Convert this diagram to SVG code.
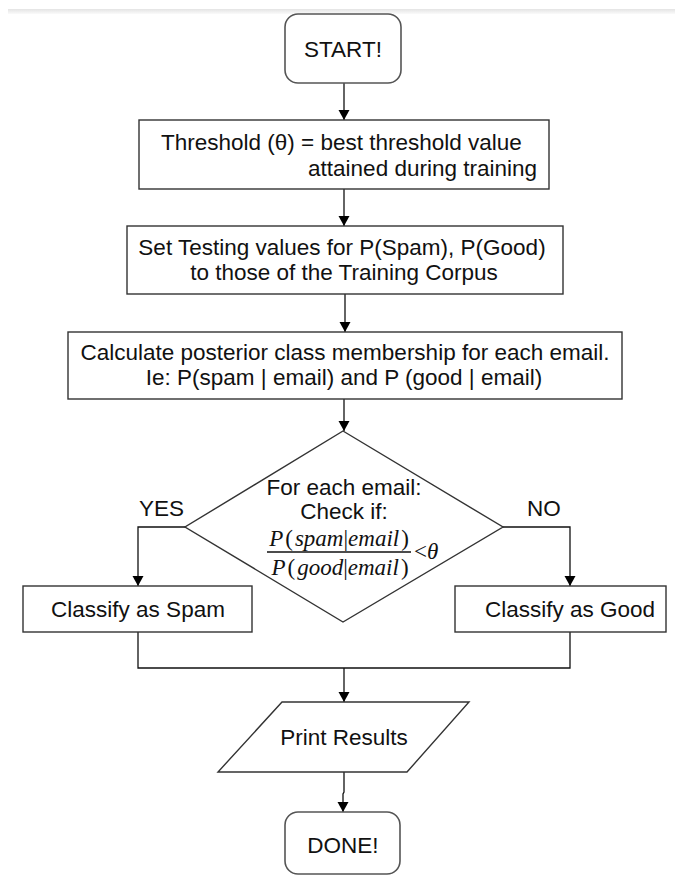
<svg xmlns="http://www.w3.org/2000/svg" width="675" height="877" viewBox="0 0 675 877">
<style>
.box{fill:#fff;stroke:#333;stroke-width:1.4}
.rbox{fill:#fff;stroke:#555;stroke-width:1.6}
.t{font-family:"Liberation Sans",Arial,sans-serif;font-size:22.5px;fill:#111}
.c{text-anchor:middle}
.m{font-family:"Liberation Serif","Times New Roman",serif;font-size:23px;fill:#111}
.i{font-style:italic}
.ln{fill:none;stroke:#111;stroke-width:1.3}
</style>
<defs>
<marker id="ah" viewBox="0 0 10 14" refX="10" refY="7" markerWidth="10" markerHeight="14" markerUnits="userSpaceOnUse" orient="auto">
<path d="M0,1.5 L10,7 L0,12.5 z" fill="#000"/>
</marker>
<linearGradient id="band" x1="0" y1="0" x2="0" y2="1">
<stop offset="0" stop-color="#e4e4e4"/>
<stop offset="1" stop-color="#fafafa"/>
</linearGradient>
</defs>
<rect x="0" y="0" width="675" height="877" fill="#fff"/>
<rect x="8" y="9" width="667" height="5" fill="url(#band)"/>

<g id="connectors">
<path class="ln" d="M344,83 V120" marker-end="url(#ah)"/>
<path class="ln" d="M344,189 V226" marker-end="url(#ah)"/>
<path class="ln" d="M345,294 V332" marker-end="url(#ah)"/>
<path class="ln" d="M344,399 V431" marker-end="url(#ah)"/>
<path class="ln" d="M185,527 H138 V586" marker-end="url(#ah)"/>
<path class="ln" d="M503,527 H570 V586" marker-end="url(#ah)"/>
<path class="ln" d="M138,632 V668 H570 V632"/>
<path class="ln" d="M344,668 V702" marker-end="url(#ah)"/>
<path class="ln" d="M344,772 V792 L343,794 V812" marker-end="url(#ah)"/>
<text class="t" x="139" y="516">YES</text>
<text class="t" x="527" y="516">NO</text>
</g>

<g id="start">
<rect class="rbox" x="285" y="14" width="116" height="69" rx="13"/>
<text class="t c" x="343" y="57">START!</text>
</g>

<g id="threshold">
<rect class="box" x="139" y="120" width="410" height="69"/>
<text class="t" x="161" y="150">Threshold (θ) = best threshold value</text>
<text class="t" x="537" y="176" text-anchor="end">attained during training</text>
</g>

<g id="set-testing">
<rect class="box" x="127" y="226" width="436" height="68"/>
<text class="t c" x="342" y="255">Set Testing values for P(Spam), P(Good)</text>
<text class="t c" x="344" y="280">to those of the Training Corpus</text>
</g>

<g id="calculate">
<rect class="box" x="68" y="332" width="554" height="67"/>
<text class="t c" x="345" y="360">Calculate posterior class membership for each email.</text>
<text class="t c" x="344" y="385">Ie: P(spam | email) and P (good | email)</text>
</g>

<g id="decision">
<polygon class="box" points="343,431 503,527 343,622 185,527"/>
<text class="t c" x="344" y="495">For each email:</text>
<text class="t c" x="344" y="519">Check if:</text>
<text class="m c" x="339" y="546"><tspan class="i">P</tspan><tspan dx="2">(</tspan><tspan class="i" dx="2">spam</tspan>|<tspan class="i">email</tspan><tspan dx="2">)</tspan></text>
<line x1="267" y1="552" x2="411" y2="552" stroke="#111" stroke-width="1.6"/>
<text class="m c" x="340" y="575"><tspan class="i">P</tspan><tspan dx="2">(</tspan><tspan class="i" dx="2">good</tspan>|<tspan class="i">email</tspan><tspan dx="2">)</tspan></text>
<text class="m" x="414" y="559">&lt;<tspan class="i">θ</tspan></text>
</g>

<g id="spam">
<rect class="box" x="23" y="586" width="229" height="46"/>
<text class="t c" x="138" y="617">Classify as Spam</text>
</g>

<g id="good">
<rect class="box" x="455" y="586" width="211" height="46"/>
<text class="t c" x="570" y="617">Classify as Good</text>
</g>

<g id="print">
<polygon class="box" points="282,702 469,702 407,772 218,772"/>
<text class="t c" x="344" y="745">Print Results</text>
</g>

<g id="done">
<rect class="rbox" x="285" y="812" width="115" height="62" rx="13"/>
<text class="t c" x="343" y="853">DONE!</text>
</g>
</svg>
